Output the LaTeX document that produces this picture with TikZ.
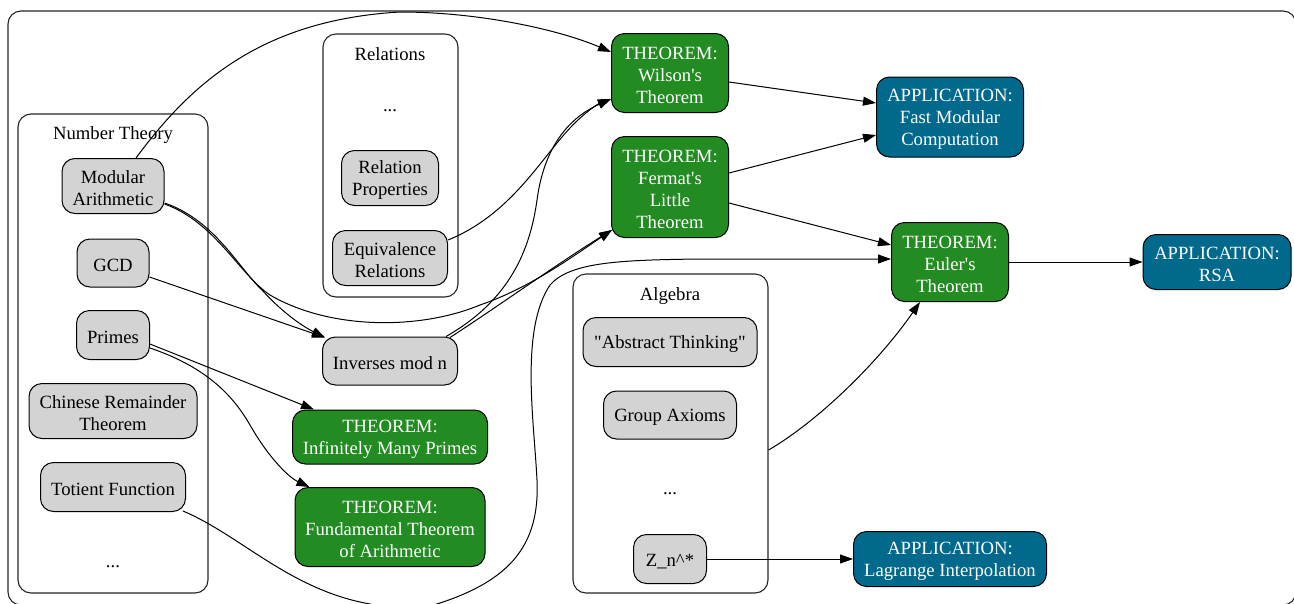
\documentclass[tikz,border=0pt]{standalone}
\usepackage{fontspec}
\setmainfont{Liberation Serif}
\usetikzlibrary{arrows.meta,calc}
\definecolor{nodegray}{HTML}{D3D3D3}
\definecolor{thmgreen}{HTML}{228B22}
\definecolor{appblue}{HTML}{00698C}
% taller first line, pushes node labels down a little
\newcommand{\nodelift}{\rule{0pt}{17.5pt}}
\begin{document}
\begin{tikzpicture}[x=1pt,y=-1pt,
  font=\fontsize{18.67}{22}\selectfont,
  concept/.style={draw, fill=nodegray, rounded corners=13pt, align=center,
    inner sep=0pt, line width=1pt},
  theorem/.style={concept, fill=thmgreen, text=white},
  application/.style={concept, fill=appblue, text=white},
  cluster/.style={draw=black!85, rounded corners=13pt, line width=1.1pt, inner sep=0pt},
  label/.style={inner sep=0pt},
  edge/.style={line width=1pt, -{Triangle[length=13pt,width=9pt]}}]
\useasboundingbox (0,0) rectangle (1294,603);

% clusters
\node[cluster, minimum width=1288, minimum height=594] (all) at (652,308) {};
\node[cluster, minimum width=190, minimum height=479] (nt) at (113,353.5) {};
\node[label] (ntl) at (113,135) {Number Theory};
\node[cluster, minimum width=135, minimum height=263] (rel) at (390.5,165.5) {};
\node[label] (rell) at (390,54) {Relations};
\node[label] (reld) at (390,111) {...};
\node[cluster, minimum width=195, minimum height=319] (alg) at (670.5,433.5) {};
\node[label] (algl) at (670,296) {Algebra};
\node[label] (algd) at (670,494) {...};
\node[label] (ntd) at (113,567) {...};

% number theory concepts
\node[concept, minimum width=102, minimum height=55] (mod) at (113,186) {\nodelift Modular\\Arithmetic};
\node[concept, minimum width=72, minimum height=48] (gcd) at (113,263) {\nodelift GCD};
\node[concept, minimum width=73, minimum height=49] (pri) at (113,335) {\nodelift Primes};
\node[concept, minimum width=168, minimum height=55] (crt) at (113,411) {\nodelift Chinese Remainder\\Theorem};
\node[concept, minimum width=145, minimum height=49] (tot) at (113,487) {\nodelift Totient Function};

% relations
\node[concept, minimum width=97, minimum height=55] (relp) at (390,178) {\nodelift Relation\\Properties};
\node[concept, minimum width=115, minimum height=55] (eqv) at (390,258) {\nodelift Equivalence\\Relations};

% middle column
\node[concept, minimum width=135, minimum height=48] (inv) at (390,361) {\nodelift Inverses mod n};
\node[theorem, minimum width=195, minimum height=54] (imp) at (390,437) {\nodelift THEOREM:\\Infinitely Many Primes};
\node[theorem, minimum width=190, minimum height=79] (fta) at (390,527) {\nodelift THEOREM:\\Fundamental Theorem\\of Arithmetic};

% theorems
\node[theorem, minimum width=117, minimum height=79] (wil) at (670,73) {\nodelift THEOREM:\\Wilson\textquotesingle s\\Theorem};
\node[theorem, minimum width=117, minimum height=101] (fer) at (670,187) {\nodelift THEOREM:\\Fermat\textquotesingle s\\Little\\Theorem};
\node[theorem, minimum width=117, minimum height=79] (eul) at (950,262) {\nodelift THEOREM:\\Euler\textquotesingle s\\Theorem};

% algebra
\node[concept, minimum width=174, minimum height=49] (abs) at (670,342) {\nodelift\textquotedbl Abstract Thinking\textquotedbl};
\node[concept, minimum width=133, minimum height=48] (grp) at (670,415) {\nodelift Group Axioms};
\node[concept, minimum width=73, minimum height=49] (zn) at (670,559) {\nodelift Z\_n\textasciicircum{}*};

% applications
\node[application, minimum width=147, minimum height=80] (fmc) at (950,117) {\nodelift APPLICATION:\\Fast Modular\\Computation};
\node[application, minimum width=148, minimum height=55] (rsa) at (1217,262) {\nodelift APPLICATION:\\RSA};
\node[application, minimum width=193, minimum height=55] (lag) at (950,559) {\nodelift APPLICATION:\\Lagrange Interpolation};

% connectors
\draw[edge] ($(mod.north)+(23,0)$) .. controls (190,85) and (260,20) .. (400,12)
  .. controls (480,12) and (560,30) .. ($(wil.west)+(0,-21)$);
\draw[edge] ($(mod.east)+(0,17)$) .. controls (215,220) and (240,270) .. (262,290)
  .. controls (280,310) and (300,325) .. ($(inv.north west)+(3,1)$);
\draw[edge] ($(mod.east)+(0,18)$) .. controls (215,222) and (240,275) .. (270,295)
  .. controls (330,330) and (420,330) .. (480,305)
  .. controls (530,288) and (575,255) .. ($(fer.south west)+(1,-8)$);
\draw[edge] ($(gcd.east)+(0,14)$) -- ($(inv.north west)+(3,1)$);
\draw[edge] ($(pri.east)+(0,9)$) -- ($(imp.north west)+(22,0)$);
\draw[edge] ($(pri.east)+(0,13)$) .. controls (200,365) and (230,390) .. (250,425)
  .. controls (270,460) and (290,478) .. ($(fta.north west)+(15,0)$);
\draw[edge] ($(eqv.east)+(0,-18)$) .. controls (510,215) and (540,160) .. (570,128)
  .. controls (585,112) and (598,104) .. ($(wil.west)+(0,26)$);
\draw[edge] ($(inv.north east)+(-12,0)$) .. controls (510,300) and (530,250) .. (537,200)
  .. controls (545,140) and (575,115) .. ($(wil.west)+(0,26)$);
\draw[edge] ($(inv.north east)+(-8,1)$) .. controls (500,305) and (560,262) .. ($(fer.south west)+(1,-8)$);
\draw[edge] ($(tot.south east)+(-3,-1)$) .. controls (240,535) and (290,590) .. (370,604)
  .. controls (400,613) and (420,610) .. (440,603)
  .. controls (510,580) and (540,545) .. (537,480)
  .. controls (534,420) and (520,330) .. (550,285)
  .. controls (570,262) and (620,260) .. (700,259)
  -- ($(eul.west)+(0,-3)$);
\draw[edge] ($(fer.east)+(0,16)$) -- ($(eul.west)+(0,-17)$);
\draw[edge] ($(alg.east)+(0,16.5)$) .. controls (820,420) and (880,360) .. ($(eul.south)+(-30,0)$);
\draw[edge] ($(wil.east)+(0,9)$) -- ($(fmc.west)+(0,-14)$);
\draw[edge] ($(fer.east)+(0,-14)$) -- ($(fmc.west)+(0,18)$);
\draw[edge] (eul.east) -- (rsa.west);
\draw[edge] (zn.east) -- (lag.west);
\end{tikzpicture}
\end{document}
